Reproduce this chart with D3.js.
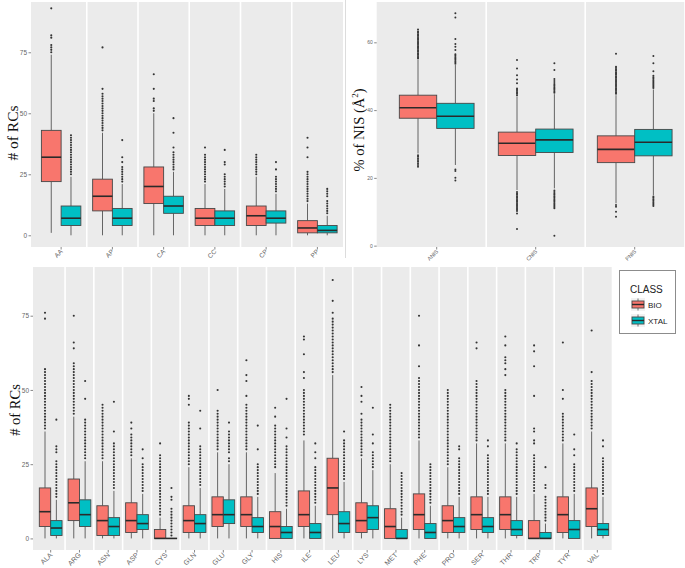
<!DOCTYPE html>
<html><head><meta charset="utf-8">
<script src="https://cdn.jsdelivr.net/npm/d3@7"></script>
<style>body{margin:0;background:#fff} svg{display:block}</style>
</head><body>
<svg id="c" width="685" height="568"></svg>
<script>
const classes = ["BIO", "XTAL"];
const classColors = ["#F8766D", "#00BFC4"];

// ---------- Panel A: # of RCs by contact type ----------
const rcCats = ["AA", "AP", "CA", "CC", "CP", "PP"];
// [lower whisker, Q1, median, Q3, upper whisker]
const rcBio = [[1,22,32,43,74],[0,10,16,23,42],[0,13,20,28,50],[0,4,7,11,21],[0,4,8,12,24],[0,1,3,6,13]];
const rcXtal = [[0,4,7,12,24],[0,4,7,11,21],[0,9,12,16,26],[0,4,7,10,19],[0,5,7,10,17],[0,1,2,4,8]];
const rcBioOut = [
  [75,76,77,78,81,82,93],
  [43,44,45,46,47,48,49,50,51,52,53,54,55,56,57,58,60,77],
  [51,52,55,56,60,66],
  [22,23,24,25,26,27,28,29,30,31,32,33,36],
  [25,26,27,28,29,30,31,32,33],
  [14,15,16,17,18,19,20,21,22,23,24,25,26,32,36,40]
];
const rcXtalOut = [
  [25,26,27,28,29,30,31,32,33,34,35,36,37,38,39,40,41],
  [22,23,24,25,26,27,28,30,32,39],
  [27,28,29,30,31,32,33,34,36,42,48],
  [20,21,22,23,24,25,29,30,35],
  [18,19,20,21,22,23,24,27,30],
  [9,10,11,12,13,14,16,17,18,19]
];
const rcTicks = [0, 25, 50, 75];

// ---------- Panel B: % of NIS ----------
const nisCats = ["ANIS", "CNIS", "PNIS"];
const nisBio = [[27.2,37.6,40.7,44.4,54.8],[16.4,26.6,30.2,33.5,44.0],[12.5,24.5,28.4,32.4,44.4]];
const nisXtal = [[23.8,34.6,38.2,42.0,53.3],[16.9,27.5,31.2,34.4,44.7],[14.9,26.5,30.5,34.3,46.1]];
const nisBioOut = [
  [23.3,23.8,24.3,24.8,25.3,25.8,26.3,26.7,55.2,55.6,56.0,56.4,56.8,57.2,57.6,58.0,58.4,58.8,59.2,59.6,60.0,60.4,60.8,61.2,61.6,62.0,62.4,62.8,63.2,63.8],
  [4.9,9.5,10.2,10.6,11.0,11.4,11.8,12.2,12.6,13.0,13.4,13.8,14.2,14.6,15.0,15.4,15.8,44.4,44.8,45.2,45.6,46.0,46.4,47.9,49.0,50.3,52.3,54.8],
  [8.5,10.0,11.5,12.0,44.8,45.2,45.6,46.0,46.4,46.8,47.2,47.6,48.0,48.4,48.8,49.2,49.6,50.0,50.4,50.8,51.2,51.6,52.0,52.4,52.8,56.6]
];
const nisXtalOut = [
  [19.2,20.0,22.0,22.5,53.7,54.1,54.5,54.9,55.3,55.7,56.1,56.5,57.7,58.7,59.5,61.0,67.3,68.6],
  [2.9,11.0,11.4,11.8,12.2,12.6,13.0,13.4,13.8,14.2,14.6,15.0,15.4,15.8,16.3,45.1,45.5,45.9,46.3,46.7,47.1,47.5,48.0,48.6,49.2,51.8,53.8],
  [11.7,12.1,12.5,12.9,13.3,13.7,14.1,14.5,46.5,46.9,47.3,47.7,48.1,48.5,48.9,49.3,49.7,50.1,51.5,53.8,56.0]
];
const nisTicks = [0, 20, 40, 60];

// ---------- Panel C: # of RCs by residue ----------
const resCats = ["ALA","ARG","ASN","ASP","CYS","GLN","GLU","GLY","HIS","ILE","LEU","LYS","MET","PHE","PRO","SER","THR","TRP","TYR","VAL"];
const resBio = [[0,4,9,17,36],[0,6,12,20,41],[0,1,6,11,26],[0,2,6,12,27],[0,0,0,3,7],[0,2,6,11,24],[0,4,8,14,29],[0,4,8,14,29],[0,0,4,9,22],[0,4,8,16,33],
  [0,8,17,27,55],[0,2,6,12,27],[0,0,4,10,25],[0,3,8,15,33],[0,2,6,11,24],[0,3,8,14,32],[0,3,8,14,32],[0,0,0,6,15],[0,2,8,14,32],[0,4,10,17,36]];
const resXtal = [[0,1,3.5,6,13],[0,4,8,13,26],[0,1,4,7,16],[0,3,5,8,15],[0,0,0,0,0],[0,2,5,8,17],[0,5,8,13,25],[0,2,4,7,14],[0,0,2,4,10],[0,0,2,5,11],
  [0,2,5,9,19],[0,3,7,11,23],[0,0,0,3,7],[0,0,2,5,11],[0,2,4,7,14],[0,2,4,7,14],[0,1,3,6,14],[0,0,0,2,5],[0,0,3,6,15],[0,1,3,5,14]];
const resBioOut = [
  [37,38,39,40,41,42,43,44,45,46,47,48,49,50,51,52,53,54,55,56,57,74,76],
  [42,43,44,45,46,47,48,49,50,51,52,53,54,55,56,57,58,59,64,66,75],
  [27,28,29,30,31,32,33,34,35,36,37,38,39,40,41,42,43,44,45],
  [28,29,30,31,32,33,34,35,37,39],
  [8,9,10,11,12,13,14,15,16,17,18,19,20,21,22,23,24,25,26,27,28,32],
  [25,26,27,28,29,30,31,32,33,34,35,36,37,38,39,45,47,48],
  [30,31,32,33,34,35,36,37,38,39,40,41,42,43,50],
  [30,31,32,33,34,35,36,37,38,39,40,41,42,43,44,45,48,53,55,60],
  [24,25,26,27,28,29,30,31,32,33,34,35,36,37,38,41,44],
  [35,36,37,38,39,40,41,42,43,44,45,46,47,48,49,50,54,56,62,67,68],
  [56,57,58,59,60,61,62,63,64,65,66,67,68,69,70,71,72,73,74,76,80,87],
  [28,29,30,31,32,33,34,35,36,37,38,39,40,42,46,48,51],
  [26,27,28,29,30,31,32,33,34,35,36,37,38,39,40,41,42,43,44,45],
  [34,35,36,37,38,39,40,41,42,43,44,45,46,47,48,49,50,51,52,53,54,58,65,75],
  [25,26,27,28,29,30,31,32,33,34,35,36,37,38,39,40,41,42,43,44,45,46,47,48,49,50],
  [33,34,35,36,37,38,39,40,41,42,43,44,45,46,47,48,49,50,51,52,53,64,66],
  [33,34,35,36,37,38,39,40,41,42,43,44,45,46,47,48,49,50,55,57,59,60,61,65,68],
  [16,17,18,19,20,21,22,23,24,25,26,27,28,32,33,36,37,48,58,63,65],
  [33,34,35,36,37,38,39,40,41,42,47,50,66],
  [37,38,39,40,41,42,43,44,45,46,47,48,49,50,51,52,53,56,70]
];
const resXtalOut = [
  [14,15,16,17,18,19,20,21,22,23,24,25,26,29,30,31,40],
  [27,28,29,30,31,32,33,34,35,36,37,38,39,40,47,53],
  [17,18,19,20,21,22,23,24,25,26,27,28,29,30,31,32,36,46],
  [16,17,18,19,20,21,22,23,24,25,27,30],
  [1,2,3,4,5,6,7,8,9,10,13,14,17],
  [18,19,20,21,22,23,24,25,26,27,28,29,30,31,37,43],
  [26,27,29,30,31,32,33,34,35,36,39],
  [15,16,17,18,19,20,21,22,23,24,25,30,38],
  [11,12,13,14,15,16,17,18,19,20,21,22,23,24,25,26,27,28,29,30,31,34,37,47],
  [12,13,14,15,16,17,18,19,20,21,22,23,24,27,29,32],
  [20,21,22,23,24,25,26,27,28,29,30,31,32,33,36],
  [24,25,26,27,28,29,32,35,44],
  [8,9,10,11,12,13,14,15,16,17,18,19,20,21,22],
  [12,13,14,15,16,17,18,19,20,21,22,23,24,25],
  [15,16,17,18,19,20,21,22,23,24,25,26,27,30,31],
  [15,16,17,18,19,20,21,22,23,24,25,26,27,28,31,33],
  [15,16,17,18,19,20,21,22,23,24,25,26,27,28,29,30,32],
  [6,7,8,9,10,11,12,13,14,17,18,24],
  [16,17,18,19,20,21,22,23,24,25,28,30,35],
  [15,16,17,18,19,20,21,22,23,24,25,26,27,31,33]
];

const svg = d3.select("#c");

function drawPanel(o) {
  const g = svg.append("g");
  const x = d3.scaleBand().domain(o.cats).range([o.x0, o.x1]);
  const bw = x.bandwidth();
  const y = d3.scaleLinear().domain(o.domain).range([o.y1, o.y0]);
  const sub = d3.scaleBand().domain(classes).range([-o.frac * bw / 2, o.frac * bw / 2]);
  const gap = 1.6;
  o.cats.forEach((c, i) => {
    const l = i === 0 ? o.bgLeft : x(c) + gap / 2;
    const r = i === o.cats.length - 1 ? o.x1 : x(c) + bw - gap / 2;
    g.append("rect").attr("x", l).attr("y", o.y0).attr("width", r - l).attr("height", o.y1 - o.y0)
      .attr("fill", "#ebebeb");
  });
  const ya = g.append("g").attr("transform", `translate(${o.bgLeft},0)`)
    .call(d3.axisLeft(y).tickValues(o.ticks).tickSize(2.5).tickPadding(1.5));
  ya.select(".domain").remove();
  ya.selectAll("line").attr("stroke", "#555").attr("stroke-width", 0.7);
  ya.selectAll("text").attr("fill", "#666").attr("font-size", o.yFont).attr("font-family", "Liberation Sans, Arial, sans-serif");
  const xa = g.append("g").attr("transform", `translate(0,${o.y1})`)
    .call(d3.axisBottom(x).tickSize(2.5).tickPadding(0));
  xa.select(".domain").remove();
  xa.selectAll("line").attr("stroke", "#555").attr("stroke-width", 0.7);
  xa.selectAll("text").attr("fill", "#666").attr("font-size", o.xFont)
    .attr("font-family", "Liberation Sans, Arial, sans-serif")
    .attr("text-anchor", "end").attr("dy", null).attr("y", 0)
    .attr("transform", `translate(2,${o.xLabOff}) rotate(-45)`);
  const sets = [o.bio, o.xtal];
  const outs = [o.bioOut, o.xtalOut];
  o.cats.forEach((c, i) => {
    classes.forEach((k, j) => {
      const s = sets[j][i];
      const left = x(c) + bw / 2 + sub(k);
      const w = sub.bandwidth();
      const cx = left + w / 2;
      g.append("line").attr("x1", cx).attr("x2", cx).attr("y1", y(s[0])).attr("y2", y(s[1]))
        .attr("stroke", "#555").attr("stroke-width", 0.9);
      g.append("line").attr("x1", cx).attr("x2", cx).attr("y1", y(s[3])).attr("y2", y(s[4]))
        .attr("stroke", "#555").attr("stroke-width", 0.9);
      g.append("rect").attr("x", left).attr("y", y(s[3])).attr("width", w)
        .attr("height", Math.max(0, y(s[1]) - y(s[3])))
        .attr("fill", classColors[j]).attr("stroke", "#474747").attr("stroke-width", 0.9);
      g.append("line").attr("x1", left).attr("x2", left + w).attr("y1", y(s[2])).attr("y2", y(s[2]))
        .attr("stroke", "#2a2a2a").attr("stroke-width", 1.6);
      g.selectAll(null).data(outs[j][i]).enter().append("circle")
        .attr("cx", cx).attr("cy", d => y(d)).attr("r", o.r).attr("fill", "#333");
    });
  });
  return g;
}

drawPanel({cats: rcCats, bio: rcBio, xtal: rcXtal, bioOut: rcBioOut, xtalOut: rcXtalOut,
  bgLeft: 31, x0: 35.5, x1: 343, y0: 2, y1: 247, domain: [-4.8, 95.6], ticks: rcTicks,
  frac: 0.77, yFont: 6.5, xFont: 6.5, xLabOff: 5, r: 1.05});

drawPanel({cats: nisCats, bio: nisBio, xtal: nisXtal, bioOut: nisBioOut, xtalOut: nisXtalOut,
  bgLeft: 376.7, x0: 387.2, x1: 684.2, y0: 2, y1: 247, domain: [-0.4, 71.9], ticks: nisTicks,
  frac: 0.755, yFont: 5, xFont: 5.5, xLabOff: 5, r: 1.0});

drawPanel({cats: resCats, bio: resBio, xtal: resXtal, bioOut: resBioOut, xtalOut: resXtalOut,
  bgLeft: 33, x0: 36.3, x1: 611.7, y0: 267, y1: 550, domain: [-3.9, 91.4], ticks: rcTicks,
  frac: 0.79, yFont: 6.5, xFont: 7, xLabOff: 5.5, r: 1.05});

svg.append("line").attr("x1", 345.5).attr("x2", 345.5).attr("y1", 0).attr("y2", 258)
  .attr("stroke", "#dcdcdc").attr("stroke-width", 1);

const serif = "Liberation Serif, Times New Roman, serif";
svg.append("text").attr("transform", "translate(18,133) rotate(-90)").attr("text-anchor", "middle")
  .attr("font-family", serif).attr("font-size", 15.5).attr("fill", "#111").text("# of RCs");
const nisT = svg.append("text").attr("transform", "translate(364,130) rotate(-90)").attr("text-anchor", "middle")
  .attr("font-family", serif).attr("font-size", 14.5).attr("fill", "#111");
nisT.append("tspan").text("% of NIS (Å");
nisT.append("tspan").attr("font-size", 9).attr("dy", -6).text("2");
nisT.append("tspan").attr("dy", 6).text(")");
svg.append("text").attr("transform", "translate(20,410) rotate(-90)").attr("text-anchor", "middle")
  .attr("font-family", serif).attr("font-size", 14.5).attr("fill", "#111").text("# of RCs");

const lg = svg.append("g");
lg.append("rect").attr("x", 619.5).attr("y", 270.5).attr("width", 56).attr("height", 63)
  .attr("fill", "#fff").attr("stroke", "#8c8c8c").attr("stroke-width", 1);
lg.append("text").attr("x", 630).attr("y", 293).attr("font-family", "Liberation Sans, Arial, sans-serif")
  .attr("font-size", 10).attr("fill", "#222").text("CLASS");
classes.forEach((k, j) => {
  const ky = 298 + j * 16;
  lg.append("rect").attr("x", 631).attr("y", ky).attr("width", 14).attr("height", 13).attr("fill", "#f2f2f2");
  lg.append("line").attr("x1", 638).attr("x2", 638).attr("y1", ky + 0.5).attr("y2", ky + 12.5)
    .attr("stroke", "#555").attr("stroke-width", 0.8);
  lg.append("rect").attr("x", 632).attr("y", ky + 3).attr("width", 12).attr("height", 7)
    .attr("fill", classColors[j]).attr("stroke", "#474747").attr("stroke-width", 0.9);
  lg.append("line").attr("x1", 632).attr("x2", 644).attr("y1", ky + 6.5).attr("y2", ky + 6.5)
    .attr("stroke", "#2a2a2a").attr("stroke-width", 1.4);
  lg.append("text").attr("x", 648).attr("y", ky + 9.5).attr("font-family", "Liberation Sans, Arial, sans-serif")
    .attr("font-size", 8).attr("fill", "#222").text(k);
});
</script>
</body></html>
